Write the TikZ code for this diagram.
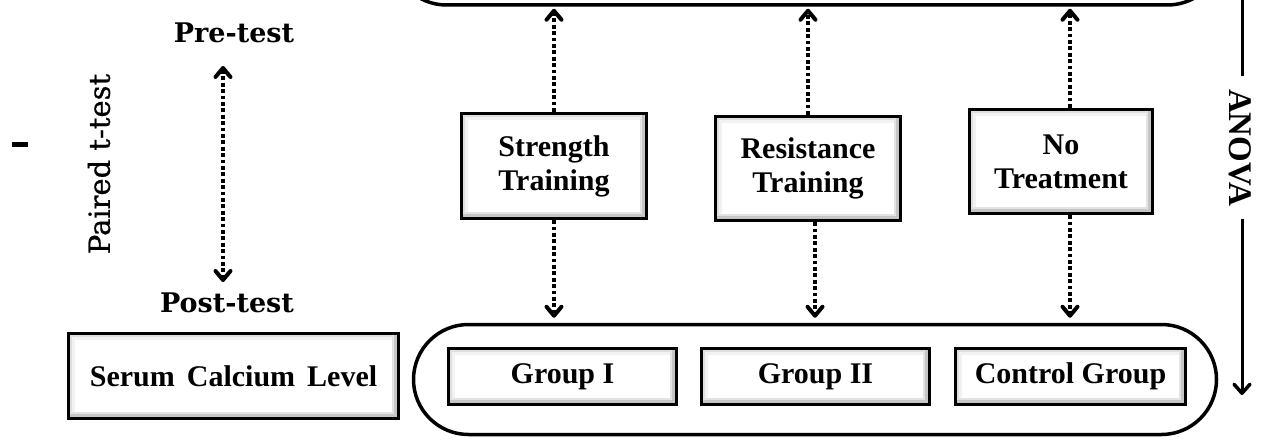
\documentclass[tikz,border=0pt]{standalone}
\usepackage{fontspec}
\setmainfont{Liberation Serif}
\newfontfamily\dvs{DejaVu Serif}
\newfontfamily\dvsm[FakeBold=0.7]{DejaVu Serif}
\usetikzlibrary{arrows.meta}
\begin{document}
\begin{tikzpicture}[x=1pt,y=-1pt,
  bevelbox/.style={draw=black, line width=3.5pt, fill=white, inner sep=0pt, align=center,
    font=\fontsize{30}{34}\selectfont\bfseries,
    path picture={
      \draw[gray!10, line width=13pt] (path picture bounding box.south west) rectangle (path picture bounding box.north east);
      \draw[gray!25, line width=7pt] (path picture bounding box.south west) rectangle (path picture bounding box.north east);
      \draw[gray!22, line width=14pt] (path picture bounding box.south west) -- (path picture bounding box.south east) -- (path picture bounding box.north east);
      \draw[gray!45, line width=9pt] (path picture bounding box.south west) -- (path picture bounding box.south east) -- (path picture bounding box.north east);
    }},
  stadium/.style={draw=black, line width=3.5pt, rounded corners=55pt, inner sep=0pt},
  tipb/.tip={Straight Barb[length=9pt,width=15pt,line width'=4pt,round]},
  dotarr/.style={line width=3.8pt, dash pattern=on 3.8pt off 2.6pt, -tipb},
  lbl/.style={inner sep=0pt, font=\dvs\bfseries\fontsize{27}{30}\selectfont},
]
\useasboundingbox (0,0) rectangle (1269,441);
\fill[white] (0,0) rectangle (1269,441);

% container shapes
\node[stadium, minimum width=831pt, minimum height=111pt] (top) at (807,-50.5) {};
\node[stadium, minimum width=803pt, minimum height=110pt] (bot) at (815,379.5) {};

% left column
\node[lbl] (pre) at (234,33) {Pre-test};
\node[lbl] (post) at (227,303) {Post-test};
\node[inner sep=0pt, font=\dvsm\fontsize{29}{32}\selectfont, rotate=90] (paired) at (99,164) {Paired t-test};
\node[fill=black, minimum width=16pt, minimum height=5pt, inner sep=0pt] (tick) at (20,145) {};
\coordinate (p1) at (223,66);
\coordinate (p2) at (223,282);
\draw[dotarr, tipb-tipb] (p1) -- (p2);

\node[bevelbox, minimum width=330pt, minimum height=85pt] (serum) at (233.5,376) {\spaceskip=12pt Serum Calcium Level};

% treatments
\node[bevelbox, minimum width=185pt, minimum height=105pt] (st) at (554,166) {Strength\\Training};
\node[bevelbox, minimum width=185pt, minimum height=104pt] (rt) at (808,168.5) {Resistance\\Training};
\node[bevelbox, minimum width=183pt, minimum height=104pt] (nt) at (1061,161.5) {No\\Treatment};

% groups
\node[bevelbox, minimum width=228pt, minimum height=56pt] (g1) at (562.5,376.5) {Group I};
\node[bevelbox, minimum width=228pt, minimum height=56pt] (g2) at (815.5,376.5) {Group II};
\node[bevelbox, minimum width=230pt, minimum height=56pt] (g3) at (1070.5,376.5) {Control Group};

% dotted arrows
\draw[dotarr, shorten >=2pt] (st.north) -- (st.north |- top.south);
\draw[dotarr, shorten >=5pt] (st.south) -- (st.south |- bot.north);
\draw[dotarr, shorten >=2pt] (rt.north) -- (rt.north |- top.south);
\draw[dotarr, shorten >=5pt] ([xshift=7pt]rt.south) -- ([xshift=7pt]rt.south |- bot.north);
\draw[dotarr, shorten >=2pt] ([xshift=9pt]nt.north) -- ([xshift=9pt]nt.north |- top.south);
\draw[dotarr, shorten >=5pt] ([xshift=9pt]nt.south) -- ([xshift=9pt]nt.south |- bot.north);

% ANOVA
\node[inner xsep=12.5pt, inner ysep=0pt, font=\bfseries\fontsize{33}{36}\selectfont, rotate=-90] (anova) at (1240,147.5) {ANOVA};
\coordinate (a0) at (1242,-3);
\coordinate (a3) at (1242,395);
\draw[line width=3pt] (a0) -- (a0 |- anova.west);
\draw[line width=3pt, -{Straight Barb[length=9pt,width=16pt,line width'=3.5pt,round]}] (a3 |- anova.east) -- (a3);
\end{tikzpicture}
\end{document}
